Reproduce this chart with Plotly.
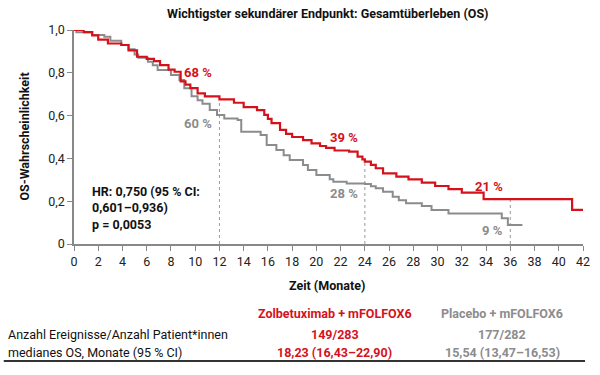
import plotly.graph_objects as go

# ---- data ----
zolbe_t = [0, 0.8, 1.5, 2.0, 2.8, 3.9, 4.5, 5.2, 6.0, 6.6, 7.1, 7.8, 8.3, 8.8, 9.2, 9.6,
           10.2, 10.8, 12.0, 13.2, 14.0, 15.1, 15.7, 16.0, 16.3, 17.0, 17.5, 18.0, 18.9,
           19.6, 20.3, 20.8, 21.5, 22.7, 23.4, 23.8, 24.0, 24.5, 24.9, 25.5, 26.6, 27.6,
           28.7, 29.8, 30.9, 32.0, 33.8, 41.1, 42.1]
zolbe_s = [1.0, 0.99, 0.975, 0.955, 0.937, 0.93, 0.905, 0.875, 0.865, 0.855, 0.836, 0.815,
           0.805, 0.76, 0.745, 0.728, 0.704, 0.69, 0.676, 0.66, 0.64, 0.626, 0.603, 0.585,
           0.565, 0.533, 0.515, 0.5, 0.485, 0.47, 0.458, 0.449, 0.437, 0.432, 0.408, 0.395,
           0.385, 0.37, 0.354, 0.33, 0.315, 0.302, 0.287, 0.271, 0.256, 0.24, 0.21, 0.159,
           0.159]

placebo_t = [0, 0.2, 1.5, 2.5, 3.0, 3.9, 4.5, 5.0, 5.3, 6.1, 6.5, 6.9, 8.0, 8.7, 9.1, 9.7,
             10.2, 10.6, 11.2, 11.8, 12.4, 13.5, 13.8, 15.4, 15.9, 16.7, 17.3, 17.8, 18.9,
             19.3, 20.0, 21.1, 21.4, 22.5, 24.0, 24.5, 24.9, 25.5, 26.3, 26.8, 27.4, 28.7,
             29.5, 30.9, 35.0, 35.3, 35.8, 37.0]
placebo_s = [1.0, 0.99, 0.977, 0.969, 0.95, 0.93, 0.91, 0.885, 0.87, 0.852, 0.835, 0.813,
             0.79, 0.766, 0.728, 0.69, 0.672, 0.655, 0.626, 0.603, 0.587, 0.579, 0.525,
             0.509, 0.463, 0.439, 0.415, 0.393, 0.369, 0.346, 0.322, 0.302, 0.291, 0.283,
             0.28, 0.27, 0.26, 0.244, 0.221, 0.205, 0.19, 0.178, 0.159, 0.143, 0.143, 0.12,
             0.089, 0.089]

landmarks = [12, 24, 36]
zolbe_pct = ["68 %", "39 %", "21 %"]
placebo_pct = ["60 %", "28 %", "9 %"]
zolbe_label_y = [0.80, 0.497, 0.271]
placebo_label_y = [0.564, 0.237, 0.062]

x_ticks = list(range(0, 43, 2))
y_ticks = [0, 0.2, 0.4, 0.6, 0.8, 1.0]
y_ticktext = ["0", "0,2", "0,4", "0,6", "0,8", "1,0"]

title = "Wichtigster sekundärer Endpunkt: Gesamtüberleben (OS)"
hr_text = "HR: 0,750 (95 % CI:<br>0,601–0,936)<br>p = 0,0053"
arm_names = ["Zolbetuximab + mFOLFOX6", "Placebo + mFOLFOX6"]
row_labels = ["Anzahl Ereignisse/Anzahl Patient*innen", "medianes OS, Monate (95 % CI)"]
zolbe_rows = ["149/283", "18,23 (16,43–22,90)"]
placebo_rows = ["177/282", "15,54 (13,47–16,53)"]

RED = "#d5121b"
GRAY = "#8c8c8c"
FONT = "Roboto"
FS = 12.5


def surv_at(ts, ss, t):
    v = ss[0]
    for ti, si in zip(ts, ss):
        if ti <= t:
            v = si
    return v


fig = go.Figure()
fig.add_trace(go.Scatter(x=placebo_t, y=placebo_s, mode="lines", line_shape="hv",
                         line=dict(color=GRAY, width=2), showlegend=False, hoverinfo="skip"))
fig.add_trace(go.Scatter(x=zolbe_t, y=zolbe_s, mode="lines", line_shape="hv",
                         line=dict(color=RED, width=2.2), showlegend=False, hoverinfo="skip"))

# dotted landmark lines
for lm in landmarks:
    top = surv_at(zolbe_t, zolbe_s, lm)
    fig.add_shape(type="line", xref="x", yref="y", x0=lm, x1=lm, y0=0, y1=top,
                  line=dict(color="#9a9a9a", width=1, dash="dot"), layer="below")

# percentage labels
for lm, txt, yy in zip(landmarks, zolbe_pct, zolbe_label_y):
    fig.add_annotation(x=lm, y=yy, xref="x", yref="y", text="<b>%s</b>" % txt,
                       showarrow=False, xanchor="right", xshift=-5,
                       font=dict(family=FONT, size=13, color=RED))
for lm, txt, yy in zip(landmarks, placebo_pct, placebo_label_y):
    fig.add_annotation(x=lm, y=yy, xref="x", yref="y", text="<b>%s</b>" % txt,
                       showarrow=False, xanchor="right", xshift=-5,
                       font=dict(family=FONT, size=13, color=GRAY))

# HR text
fig.add_annotation(x=1.3, y=0.168, xref="x", yref="y", text="<b>%s</b>" % hr_text,
                   showarrow=False, xanchor="left", yanchor="middle", align="left",
                   font=dict(family=FONT, size=FS, color="#111111"))

# title & axis titles
fig.add_annotation(x=0.498, y=1.079, xref="paper", yref="paper", text="<b>%s</b>" % title,
                   showarrow=False, xanchor="center", yanchor="middle",
                   font=dict(family=FONT, size=12.5, color="#111111"))
fig.add_annotation(x=0.498, y=-0.196, xref="paper", yref="paper", text="<b>Zeit (Monate)</b>",
                   showarrow=False, xanchor="center", yanchor="middle",
                   font=dict(family=FONT, size=FS, color="#111111"))
fig.add_annotation(x=-0.099, y=0.5, xref="paper", yref="paper",
                   text="<b>OS-Wahrscheinlichkeit</b>", textangle=-90,
                   showarrow=False, xanchor="center", yanchor="middle",
                   font=dict(family=FONT, size=FS, color="#111111"))

# table below
col_x = [0.512, 0.841]
fig.add_annotation(x=col_x[0], y=-0.327, xref="paper", yref="paper",
                   text="<b>%s</b>" % arm_names[0], showarrow=False,
                   xanchor="center", yanchor="middle",
                   font=dict(family=FONT, size=FS, color=RED))
fig.add_annotation(x=col_x[1], y=-0.327, xref="paper", yref="paper",
                   text="<b>%s</b>" % arm_names[1], showarrow=False,
                   xanchor="center", yanchor="middle",
                   font=dict(family=FONT, size=FS, color=GRAY))
row_y = [-0.425, -0.505]
for i, lab in enumerate(row_labels):
    fig.add_annotation(x=-0.134, y=row_y[i], xref="paper", yref="paper", text=lab,
                       showarrow=False, xanchor="left", yanchor="middle",
                       font=dict(family=FONT, size=FS, color="#111111"))
    fig.add_annotation(x=col_x[0], y=row_y[i], xref="paper", yref="paper",
                       text="<b>%s</b>" % zolbe_rows[i], showarrow=False,
                       xanchor="center", yanchor="middle",
                       font=dict(family=FONT, size=FS, color=RED))
    fig.add_annotation(x=col_x[1], y=row_y[i], xref="paper", yref="paper",
                       text="<b>%s</b>" % placebo_rows[i], showarrow=False,
                       xanchor="center", yanchor="middle",
                       font=dict(family=FONT, size=FS, color=GRAY))
# bottom rule of the table
fig.add_shape(type="line", xref="paper", yref="paper", x0=-0.138, x1=1.004,
              y0=-0.547, y1=-0.547, line=dict(color="#333333", width=2), layer="above")

fig.update_layout(
    width=600, height=375,
    margin=dict(l=74, r=10, t=30, b=131),
    paper_bgcolor="white", plot_bgcolor="white",
    separators=",.",
    font=dict(family=FONT, size=FS, color="#222222"),
    showlegend=False,
    hovermode=False,
)
fig.update_xaxes(range=[0, 42], tickvals=x_ticks, ticks="outside", ticklen=5,
                 tickcolor="#888888", showline=True, linecolor="#888888", linewidth=1.5,
                 showgrid=False, zeroline=False, tickfont=dict(size=FS, color="#222222"))
fig.update_yaxes(range=[0, 1.0], tickvals=y_ticks, ticktext=y_ticktext, ticks="outside",
                 ticklen=5, tickcolor="#888888", showline=True, linecolor="#888888",
                 linewidth=1.5, showgrid=False, zeroline=False,
                 tickfont=dict(size=FS, color="#222222"))

fig.write_html("out.html", config={"displayModeBar": False},
               post_script="document.body.style.margin='0';")
